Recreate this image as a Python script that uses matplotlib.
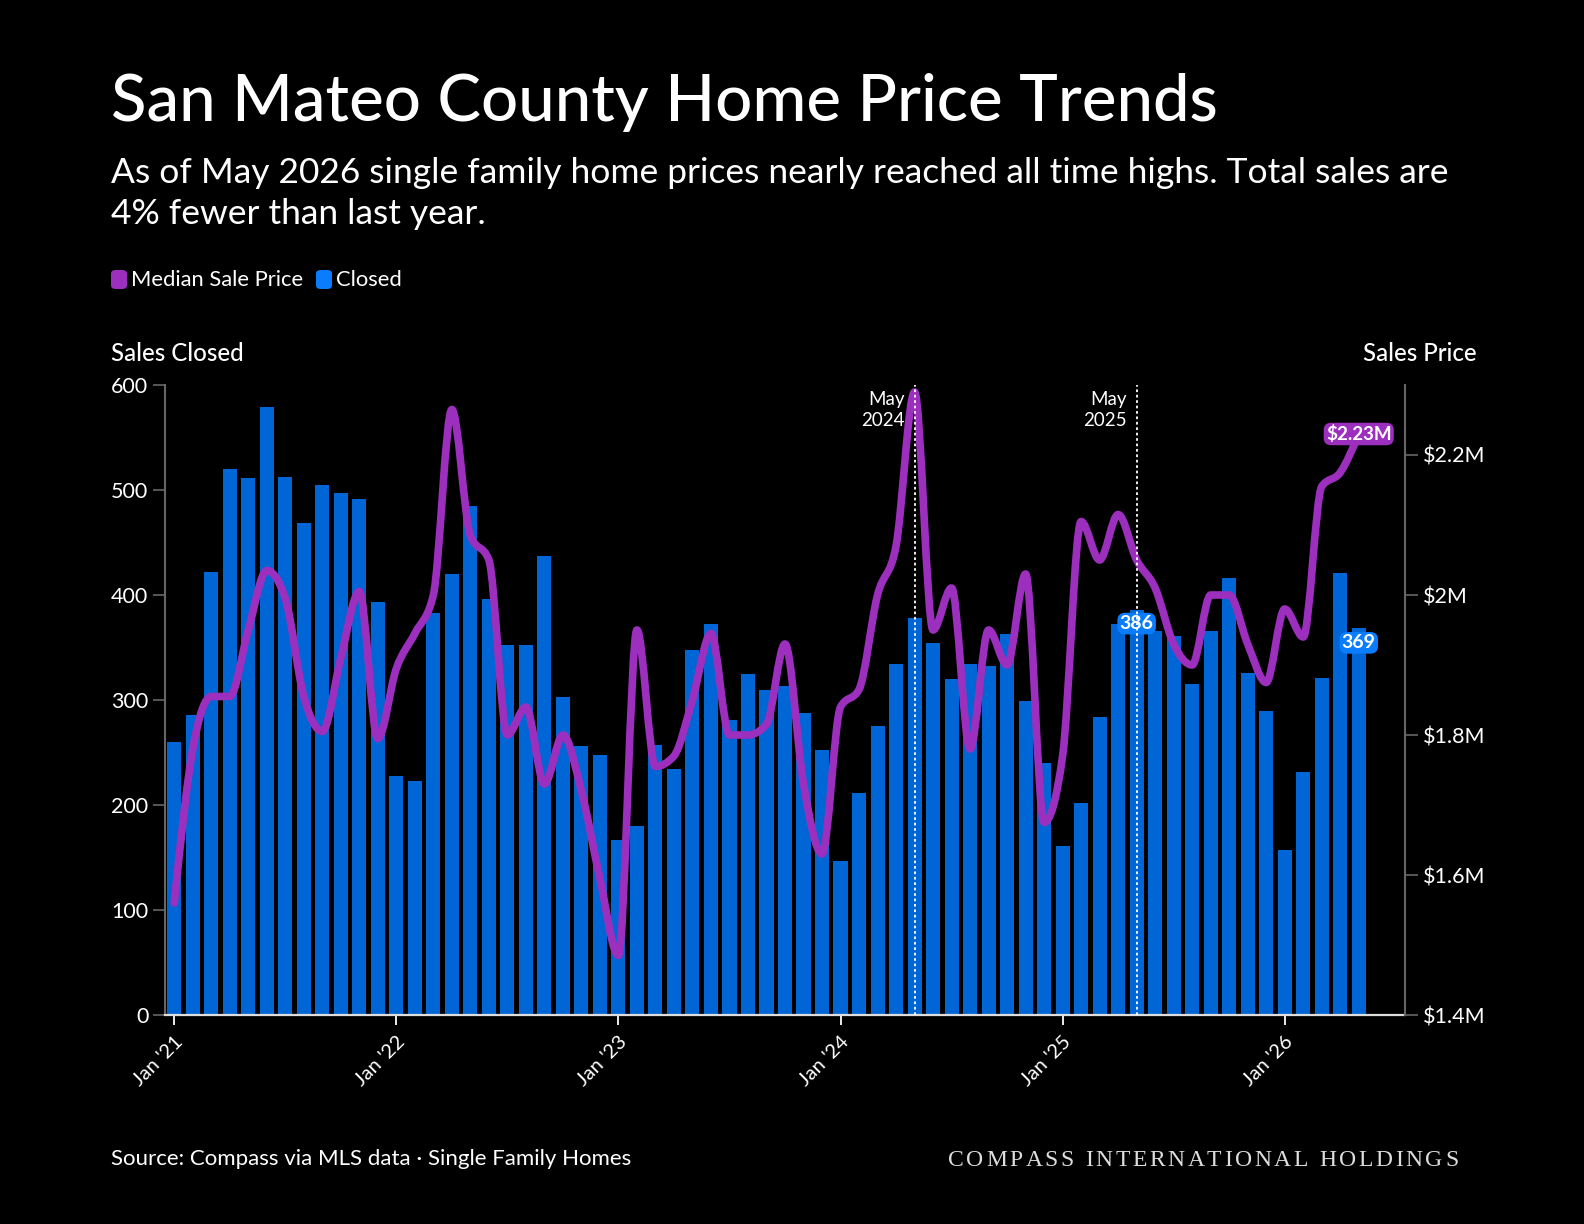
import numpy as np
import matplotlib
matplotlib.use("Agg")
import matplotlib.pyplot as plt
from matplotlib.path import Path
from matplotlib.patches import PathPatch, FancyBboxPatch

# monthly data, Jan 2021 .. May 2026
months = [f"{m} {y}" for y in range(2021, 2027) for m in
          ["Jan", "Feb", "Mar", "Apr", "May", "Jun", "Jul", "Aug", "Sep", "Oct", "Nov", "Dec"]][:65]

closed = [260, 286, 422, 520, 511, 579, 512, 469, 505, 497, 491, 393,
          228, 223, 383, 420, 485, 396, 352, 352, 437, 303, 256, 248,
          167, 180, 257, 234, 348, 372, 281, 325, 310, 313, 288, 252,
          147, 211, 275, 334, 378, 354, 320, 334, 332, 363, 299, 240,
          161, 202, 284, 372, 386, 366, 361, 315, 366, 416, 326, 290,
          157, 231, 321, 421, 369]

median_price = [1.56, 1.78, 1.855, 1.855, 1.95, 2.035, 1.995, 1.855, 1.805, 1.91, 2.005, 1.795,
                1.895, 1.945, 2.0, 2.265, 2.085, 2.05, 1.80, 1.84, 1.73, 1.80, 1.72, 1.595,
                1.485, 1.95, 1.755, 1.77, 1.85, 1.945, 1.80, 1.80, 1.815, 1.93, 1.73, 1.63,
                1.84, 1.865, 2.0, 2.07, 2.29, 1.95, 2.01, 1.78, 1.95, 1.90, 2.03, 1.675,
                1.77, 2.105, 2.05, 2.115, 2.05, 2.01, 1.93, 1.90, 2.0, 2.0, 1.93, 1.875,
                1.98, 1.94, 2.155, 2.175, 2.23]

xtick_pos = [0, 12, 24, 36, 48, 60]
xtick_labels = ["Jan '21", "Jan '22", "Jan '23", "Jan '24", "Jan '25", "Jan '26"]
left_ticks = [0, 100, 200, 300, 400, 500, 600]
right_ticks = [1.4, 1.6, 1.8, 2.0, 2.2]
right_labels = ["$1.4M", "$1.6M", "$1.8M", "$2M", "$2.2M"]
marker_months = [(40, "May\n2024"), (52, "May\n2025")]

BG = "#000000"
BAR = "#0066d6"
BAR_LEG = "#0a7dff"
PURPLE = "#9c2fbd"
FONT = "Lato"

W, H = 1584, 1224
fig = plt.figure(figsize=(W / 100, H / 100), dpi=100, facecolor=BG)


def fx(px):
    return px / W


def fy(py):
    return 1 - py / H


def monotone_path(xs, ys):
    # monotone cubic (same idea as d3 curveMonotoneX), as bezier segments
    xs = np.asarray(xs, float)
    ys = np.asarray(ys, float)
    h = np.diff(xs)
    s = np.diff(ys) / h
    t = np.zeros(len(xs))
    for i in range(1, len(xs) - 1):
        s0, s1 = s[i - 1], s[i]
        p = (s0 * h[i] + s1 * h[i - 1]) / (h[i - 1] + h[i])
        sg = (1 if s0 >= 0 else -1) + (1 if s1 >= 0 else -1)
        t[i] = sg * min(abs(s0), abs(s1), 0.5 * abs(p))
    t[0] = (3 * s[0] - t[1]) / 2
    t[-1] = (3 * s[-1] - t[-2]) / 2
    verts = [(xs[0], ys[0])]
    codes = [Path.MOVETO]
    for i in range(len(xs) - 1):
        d = h[i] / 3
        verts += [(xs[i] + d, ys[i] + t[i] * d),
                  (xs[i + 1] - d, ys[i + 1] - t[i + 1] * d),
                  (xs[i + 1], ys[i + 1])]
        codes += [Path.CURVE4] * 3
    return Path(verts, codes)


ax = fig.add_axes([fx(165), fy(1015), fx(1405 - 165), (1015 - 385) / H])
ax.set_facecolor(BG)
x = np.arange(len(closed))
ax.bar(x, closed, width=0.76, color=BAR, zorder=2)
ax.set_xlim(-0.5, 66.5)
ax.set_ylim(0, 600)
ax.set_yticks(left_ticks)
ax.set_xticks(xtick_pos)
ax.set_xticklabels(xtick_labels, rotation=45, ha="right", rotation_mode="anchor",
                   fontsize=14.5, color="white", family=FONT)
ax.tick_params(axis="x", length=7, width=1.3, color="white", pad=6)
ax.tick_params(axis="y", length=9, width=1.2, color="#666666", labelsize=15.5,
               labelcolor="white", pad=3)
for lab in ax.get_yticklabels():
    lab.set_family(FONT)
for side in ["top", "right"]:
    ax.spines[side].set_visible(False)
ax.spines["left"].set_color("#666666")
ax.spines["left"].set_linewidth(1.5)
ax.spines["bottom"].set_color("#dddddd")
ax.spines["bottom"].set_linewidth(1.6)

ax2 = ax.twinx()
ax2.set_ylim(1.4, 2.3)
ax2.set_yticks(right_ticks)
ax2.set_yticklabels(right_labels, fontsize=15.5, color="white", family=FONT)
ax2.tick_params(axis="y", length=9, width=1.2, color="#666666", pad=4)
for side in ["top", "left", "bottom"]:
    ax2.spines[side].set_visible(False)
ax2.spines["right"].set_color("#666666")
ax2.spines["right"].set_linewidth(1.5)

line = PathPatch(monotone_path(x, median_price), fill=False, edgecolor=PURPLE,
                 lw=5.5, capstyle="round", joinstyle="round", zorder=3)
ax2.add_patch(line)

for m, lab in marker_months:
    ax2.axvline(m, color="white", lw=1.3, ls=(0, (1.5, 1.5)), zorder=4)
    ax2.annotate(lab, xy=(m, 1.0), xycoords=("data", "axes fraction"),
                 xytext=(-7, -4), textcoords="offset points", ha="right", va="top",
                 multialignment="right", fontsize=13.5, color="white", family=FONT,
                 linespacing=1.35, zorder=5)

# value labels
box_blue = dict(boxstyle="round,pad=0.12,rounding_size=0.4", fc=BAR_LEG, ec="none")
ax.annotate(str(closed[52]), xy=(52, closed[52]), xytext=(0, -10), textcoords="offset points",
            ha="center", va="center", fontsize=14, color="white", family=FONT,
            fontweight="bold", zorder=6, bbox=box_blue)
ax.annotate(str(closed[64]), xy=(64, closed[64]), xytext=(0, -11), textcoords="offset points",
            ha="center", va="center", fontsize=14, color="white", family=FONT,
            fontweight="bold", zorder=6, bbox=box_blue)
ax2.annotate(f"${median_price[-1]:.2f}M", xy=(64, median_price[-1]), xytext=(0, 0),
             textcoords="offset points", ha="center", va="center", fontsize=13.5,
             color="white", family=FONT, fontweight="bold", zorder=6,
             bbox=dict(boxstyle="round,pad=0.12,rounding_size=0.4", fc=PURPLE, ec="none"))

# titles and text
fig.text(fx(111), fy(121), "San Mateo County Home Price Trends", fontsize=47,
         color="white", family=FONT, fontweight="medium", va="baseline")
fig.text(fx(111), fy(183), "As of May 2026 single family home prices nearly reached all time highs. Total sales are",
         fontsize=25.5, color="white", family=FONT, va="baseline")
fig.text(fx(111), fy(224), "4% fewer than last year.",
         fontsize=25.5, color="white", family=FONT, va="baseline")

# legend
for px, col, lab in [(111, PURPLE, "Median Sale Price"), (316, BAR_LEG, "Closed")]:
    fig.patches.append(FancyBboxPatch(
        (fx(px), fy(289)), fx(16), 19 / H, boxstyle="round,pad=0,rounding_size=0.003",
        transform=fig.transFigure, fc=col, ec="none"))
    fig.text(fx(px + 20), fy(286), lab, fontsize=15.8, color="white", family=FONT,
             va="baseline")

fig.text(fx(111), fy(361), "Sales Closed", fontsize=17.3, color="white", family=FONT,
         fontweight="medium", va="baseline")
fig.text(fx(1477), fy(361), "Sales Price", fontsize=17.3, color="white", family=FONT,
         fontweight="medium", va="baseline", ha="right")

fig.text(fx(111), fy(1165), "Source: Compass via MLS data \u00b7 Single Family Homes",
         fontsize=16, color="white", family=FONT, va="baseline")

# letter-spaced serif brand text
brand = "COMPASS INTERNATIONAL HOLDINGS"
renderer = fig.canvas.get_renderer()
cur = 948
for ch in brand:
    t = fig.text(fx(cur), fy(1166), ch, fontsize=17, color="#dddddd",
                 family="Liberation Serif", va="baseline")
    wpx = t.get_window_extent(renderer).width if ch != " " else 6
    cur += wpx + 2.6

fig.savefig("out.png", dpi=100, facecolor=BG)
